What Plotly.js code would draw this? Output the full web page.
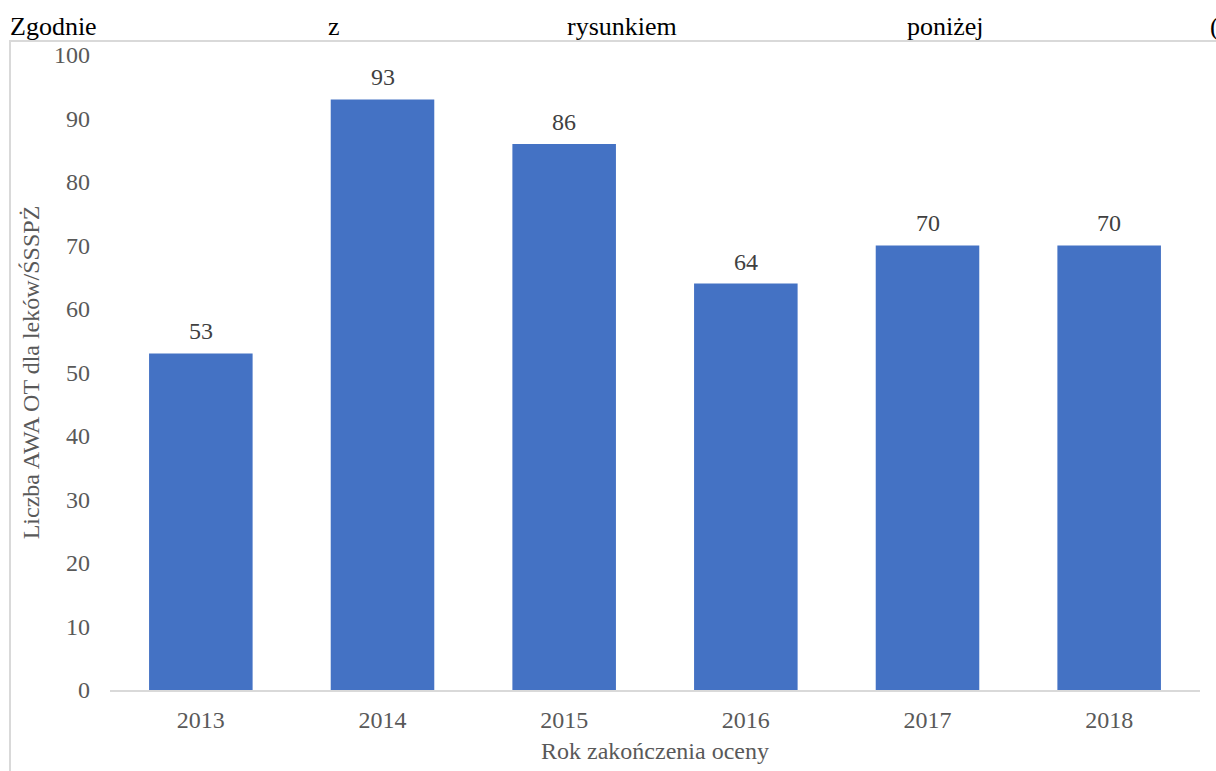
<!DOCTYPE html>
<html>
<head>
<meta charset="utf-8">
<script src="https://cdn.plot.ly/plotly-3.0.1.min.js"></script>
<style>html,body{margin:0;padding:0;background:#fff;}#chart{width:1216px;height:771px;}</style>
</head>
<body>
<div id="chart"></div>
<script>
const years = ["2013", "2014", "2015", "2016", "2017", "2018"];
const counts = [53, 93, 86, 64, 70, 70];
const yTicks = [0, 10, 20, 30, 40, 50, 60, 70, 80, 90, 100];
const headerWords = ["Zgodnie", "z", "rysunkiem", "poniżej", "("];
const headerX = [8, 326, 565, 905, 1208];

const W = 1216, H = 771;
const px = v => v / W;
const py = v => 1 - v / H;
const serif = "Liberation Serif";

const trace = {
  type: "bar",
  x: years,
  y: counts,
  marker: {color: "#4472c4"},
  hoverinfo: "x+y"
};

const headerAnn = headerWords.map((w, i) => ({
  xref: "paper", yref: "paper", x: px(headerX[i]), y: py(27),
  xanchor: "left", yanchor: "middle", text: w, showarrow: false,
  font: {family: serif, size: 26, color: "#000000"}
}));

const labelAnn = years.map((yr, i) => ({
  xref: "x", yref: "y", x: i, y: counts[i],
  xanchor: "center", yanchor: "bottom", yshift: 7,
  text: String(counts[i]), showarrow: false,
  font: {family: serif, size: 24, color: "#404040"}
}));

const layout = {
  width: W, height: H,
  margin: {l: 0, r: 0, t: 0, b: 0},
  paper_bgcolor: "#ffffff", plot_bgcolor: "#ffffff",
  showlegend: false,
  bargap: 0.43,
  font: {family: serif, color: "#595959"},
  xaxis: {
    domain: [px(110), px(1200)],
    type: "category",
    range: [-0.5, years.length - 0.5],
    autorange: false,
    showgrid: false,
    showline: true, linecolor: "#d9d9d9", linewidth: 2,
    ticks: "", ticklabelstandoff: 7,
    tickfont: {family: serif, size: 24, color: "#595959"},
    title: {text: "Rok zakończenia oceny", font: {family: serif, size: 24, color: "#595959"}, standoff: 10},
    fixedrange: true
  },
  yaxis: {
    domain: [py(690), py(55)],
    range: [0, 100],
    autorange: false,
    tickvals: yTicks,
    showgrid: false, zeroline: false, showline: false,
    ticks: "", ticklabelstandoff: 19,
    tickfont: {family: serif, size: 24, color: "#595959"},
    title: {text: "Liczba AWA OT dla leków/ŚSSPŻ", font: {family: serif, size: 24, color: "#595959"}, standoff: 7},
    fixedrange: true
  },
  shapes: [{
    type: "rect", xref: "paper", yref: "paper",
    x0: px(10), x1: px(1230), y0: py(41), y1: py(790),
    line: {color: "#d9d9d9", width: 2}, fillcolor: "rgba(0,0,0,0)", layer: "below"
  }],
  annotations: headerAnn.concat(labelAnn)
};

Plotly.newPlot("chart", [trace], layout, {displayModeBar: false, staticPlot: true});
</script>
</body>
</html>
